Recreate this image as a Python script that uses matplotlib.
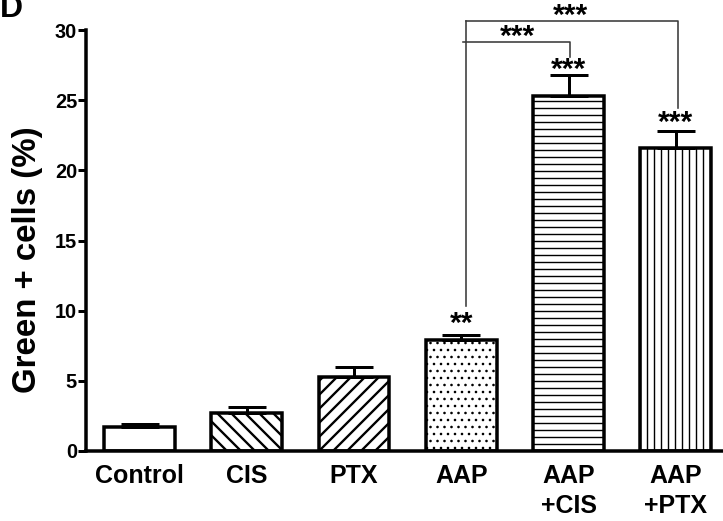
import matplotlib
matplotlib.use('Agg')
import matplotlib.pyplot as plt
import numpy as np

# ---- data ----
categories = ['Control', 'CIS', 'PTX', 'AAP', 'AAP\n+CIS', 'AAP\n+PTX']
means = [1.7, 2.7, 5.3, 7.9, 25.3, 21.6]
errors = [0.2, 0.45, 0.7, 0.4, 1.5, 1.2]
bar_stars = ['', '', '', '**', '***', '***']
hatches = ['', '\\\\', '//', '..', '--', '||']
yticks = [0, 5, 10, 15, 20, 25, 30]
y_label = 'Green + cells (%)'
panel = 'D'

DPI = 84
W, H = 723, 521


def pt(v):
    """pixels -> points"""
    return v * 72.0 / DPI


plt.rcParams['font.family'] = ['Liberation Sans', 'DejaVu Sans']
plt.rcParams['font.weight'] = 'bold'

fig = plt.figure(figsize=(W / DPI, H / DPI), dpi=DPI)
ax = fig.add_axes([86 / W, 1 - 451 / H, 1 - 86 / W, (451 - 30) / H])

x = np.arange(len(categories))
hatch_lw = [1.0, 2.0, 2.0, 1.0, 1.2, 1.2]
for i in range(len(categories)):
    with plt.rc_context({'hatch.linewidth': hatch_lw[i]}):
        bars = ax.bar(x[i], means[i], width=0.66, facecolor='white',
                      edgecolor='black', linewidth=pt(3.5),
                      hatch=hatches[i], zorder=2)
        for b in bars:
            if hasattr(b, 'set_hatch_linewidth'):
                b.set_hatch_linewidth(hatch_lw[i])

ax.errorbar(x, means, yerr=[np.zeros(len(means)), errors], fmt='none',
            ecolor='black', elinewidth=pt(3), capsize=pt(19),
            capthick=pt(3), zorder=3)

# stars above bars
star_lift = [0.0, 0.0, 0.0, 0.2, -0.2, 0.0]
for i, s in enumerate(bar_stars):
    if s:
        ax.text(x[i], means[i] + errors[i] + star_lift[i], s, ha='center',
                va='baseline', fontsize=pt(30), zorder=4)

# comparison brackets (AAP vs AAP+CIS, AAP vs AAP+PTX)
lc = '#3a3a3a'
lw = pt(1.6)
xl = x[3] + 0.04
ax.plot([xl, xl], [10.33, 30.67], color=lc, lw=lw, clip_on=False)
ax.plot([xl - 0.02, x[4] + 0.01, x[4] + 0.01], [29.17, 29.17, 28.08],
        color=lc, lw=lw, clip_on=False)
ax.plot([xl, x[5] + 0.02, x[5] + 0.02], [30.67, 30.67, 24.45],
        color=lc, lw=lw, clip_on=False)
ax.text((xl + x[4]) / 2, 28.95, '***', ha='center', va='baseline',
        fontsize=pt(30), clip_on=False)
ax.text((xl + x[5]) / 2, 30.4, '***', ha='center', va='baseline',
        fontsize=pt(30), clip_on=False)

ax.set_xlim(-0.5, 5.44)
ax.set_ylim(0, 30)
ax.set_yticks(yticks)
ax.set_yticklabels([str(t) for t in yticks])
ax.set_xticks(x)
ax.set_xticklabels(categories)
for lab in ax.get_xticklabels():
    lab.set_linespacing(1.3)

for side in ['top', 'right']:
    ax.spines[side].set_visible(False)
for side in ['left', 'bottom']:
    ax.spines[side].set_linewidth(pt(3.5))

ax.tick_params(axis='y', length=pt(8), width=pt(3), labelsize=pt(20),
               pad=pt(1))
ax.tick_params(axis='x', length=0, labelsize=pt(25), pad=pt(13))

fig.text(28 / W, 1 - 260 / H, y_label, rotation=90, ha='center',
         va='center', fontsize=pt(33), fontweight='bold')
fig.text(0.0, 1 - 17 / H, panel, ha='left', va='baseline',
         fontsize=pt(32), fontweight='bold')

fig.savefig('out.png', dpi=DPI)
